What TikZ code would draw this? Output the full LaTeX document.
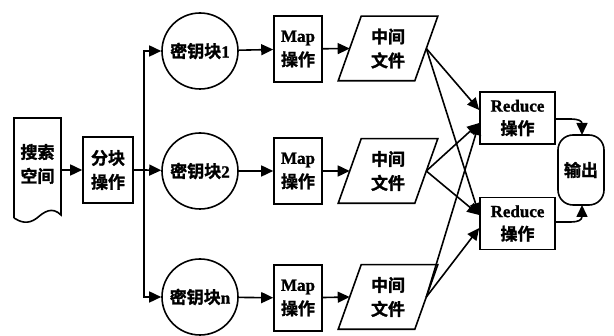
\documentclass[tikz,border=0pt]{standalone}
\usepackage{fontspec}
\setmainfont{Liberation Serif}[BoldFeatures={FakeBold=1.2}]
\newfontfamily\cjk{Noto Sans CJK SC Black}[FakeBold=1.5]
\usetikzlibrary{arrows.meta}
\begin{document}
\begin{tikzpicture}[x=1pt,y=-1pt,
  line width=1.6pt,
  txt/.style={font=\fontsize{17}{24}\selectfont\bfseries, align=center, inner sep=0pt},
  box/.style={txt, draw, rectangle},
  keyc/.style={txt, draw, circle, minimum size=76pt},
  arr/.style={-{Triangle[length=12pt,width=11pt]}}
]
\useasboundingbox (0,0) rectangle (614,336);

% document shape
\node[txt, minimum width=47pt] (doc) at (37.5,164) {\cjk 搜索\\\cjk 空间};
\draw (14,218) -- (14,118) -- (61,118) -- (61,215)
      .. controls (52,206) and (44,212) .. (37,218)
      .. controls (28,225) and (20,222) .. (14,218);

\node[box, minimum width=50pt, minimum height=66pt] (split) at (108,170) {\cjk 分块\\\cjk 操作};
\coordinate (bx) at (144,170);

\node[keyc] (k1) at (200,51)  {{\cjk 密钥块}1};
\node[keyc] (k2) at (200,171) {{\cjk 密钥块}2};
\node[keyc] (kn) at (200,297) {{\cjk 密钥块}n};

\node[box, minimum width=48pt, minimum height=66pt] (m1) at (298,49)  {Map\\\cjk 操作};
\node[box, minimum width=48pt, minimum height=66pt] (m2) at (298,171) {Map\\\cjk 操作};
\node[box, minimum width=48pt, minimum height=66pt] (m3) at (298,298) {Map\\\cjk 操作};

\foreach \n/\y in {p1/48.5, p2/171, p3/297}{
  \node[txt, minimum width=75pt, minimum height=63pt] (\n) at (388,\y) {\cjk 中间\\\cjk 文件};
  \draw ([xshift=11.5pt]\n.north west) -- ([xshift=11.5pt]\n.north east)
        -- ([xshift=-11.5pt]\n.south east) -- ([xshift=-11.5pt]\n.south west) -- cycle;
}

\node[box, minimum width=75pt, minimum height=52pt] (r1) at (517.5,118) {Reduce\\[-1pt]\cjk 操作};
\node[box, minimum width=75pt, minimum height=52pt] (r2) at (517.5,223.5) {Reduce\\[-1pt]\cjk 操作};

\node[txt, draw, rounded corners=15pt, minimum width=46pt, minimum height=70pt] (out) at (581,170) {\cjk 输出};

% connectors
\draw[arr] (doc.east |- split.west) -- (split.west);
\draw (split.east) -- (bx);
\draw[arr] (bx) |- (k1);
\draw[arr] (bx) -- (k2);
\draw[arr] (bx) |- (kn);
\draw[arr] (k1) -- (m1);
\draw[arr] (k2) -- (m2);
\draw[arr] (kn) -- (m3);
\draw[arr] (m1) -- (p1.west);
\draw[arr] (m2) -- (p2.west);
\draw[arr] (m3) -- (p3.west);

\draw[arr] (p1.east) -- ([yshift=8pt]r1.west);
\draw[arr] (p1.east) -- ([yshift=8.5pt]r2.west);
\draw[arr] (p2.east) -- ([yshift=-5pt]r1.west);
\draw[arr] (p2.east) -- ([yshift=8.5pt]r2.west);
\draw[arr] (p3.east) -- ([yshift=-5pt]r1.west);
\draw[arr] (p3.east) -- ([yshift=-4.5pt]r2.west);

\coordinate (c1) at (571,119);
\coordinate (c2) at (571,222);
\coordinate (o1) at (582,135);
\coordinate (o2) at (582,205);
\draw[arr] (r1.east |- c1) -- (c1) .. controls (578,119) and (582,121) .. (o1);
\draw[arr] (r2.east |- c2) -- (c2) .. controls (578,222) and (582,220) .. (o2);
\end{tikzpicture}
\end{document}
